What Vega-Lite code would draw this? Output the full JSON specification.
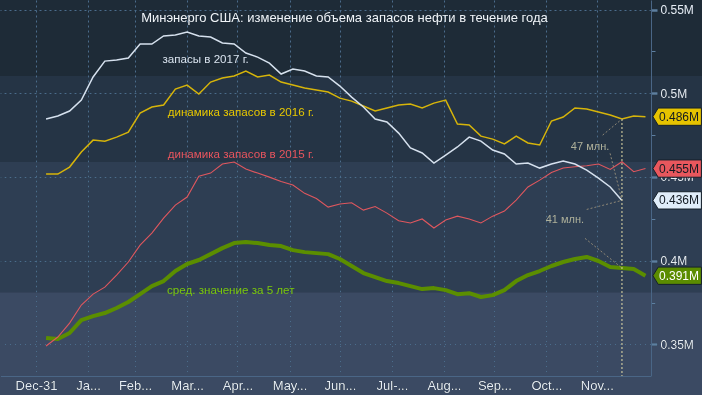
{
  "$schema": "https://vega.github.io/schema/vega-lite/v6.json",
  "width": 651,
  "height": 376,
  "autosize": {"type": "none"},
  "padding": {"left": 0, "top": 0, "right": 51, "bottom": 19},
  "background": "#1e2b37",
  "title": {"text": "Минэнерго США: изменение объема запасов нефти в течение года", "anchor": "middle", "frame": "group", "dx": 19, "offset": -25, "color": "#f0f4f8", "fontSize": 13, "fontWeight": "normal", "font": "Liberation Sans"},
  "config": {"view": {"stroke": null}, "font": "Liberation Sans", "axis": {"title": null}},
  "datasets": {
    "stocks": [
      {"d": "2017-01-06", "y2017": 0.4846, "y2016": 0.4517, "y2015": 0.3490, "avg5": 0.3538},
      {"d": "2017-01-13", "y2017": 0.4864, "y2016": 0.4517, "y2015": 0.3544, "avg5": 0.3532},
      {"d": "2017-01-20", "y2017": 0.4894, "y2016": 0.4559, "y2015": 0.3627, "avg5": 0.3568},
      {"d": "2017-01-27", "y2017": 0.4959, "y2016": 0.4649, "y2015": 0.3735, "avg5": 0.3645},
      {"d": "2017-02-03", "y2017": 0.5097, "y2016": 0.4720, "y2015": 0.3800, "avg5": 0.3669},
      {"d": "2017-02-10", "y2017": 0.5192, "y2016": 0.4714, "y2015": 0.3842, "avg5": 0.3687},
      {"d": "2017-02-17", "y2017": 0.5198, "y2016": 0.4738, "y2015": 0.3914, "avg5": 0.3717},
      {"d": "2017-02-24", "y2017": 0.5210, "y2016": 0.4768, "y2015": 0.3992, "avg5": 0.3753},
      {"d": "2017-03-03", "y2017": 0.5294, "y2016": 0.4882, "y2015": 0.4093, "avg5": 0.3800},
      {"d": "2017-03-10", "y2017": 0.5294, "y2016": 0.4918, "y2015": 0.4165, "avg5": 0.3848},
      {"d": "2017-03-17", "y2017": 0.5342, "y2016": 0.4930, "y2015": 0.4254, "avg5": 0.3878},
      {"d": "2017-03-24", "y2017": 0.5348, "y2016": 0.5025, "y2015": 0.4332, "avg5": 0.3938},
      {"d": "2017-03-31", "y2017": 0.5366, "y2016": 0.5049, "y2015": 0.4380, "avg5": 0.3980},
      {"d": "2017-04-07", "y2017": 0.5342, "y2016": 0.4995, "y2015": 0.4505, "avg5": 0.4004},
      {"d": "2017-04-14", "y2017": 0.5336, "y2016": 0.5067, "y2015": 0.4523, "avg5": 0.4039},
      {"d": "2017-04-21", "y2017": 0.5300, "y2016": 0.5091, "y2015": 0.4577, "avg5": 0.4075},
      {"d": "2017-04-28", "y2017": 0.5294, "y2016": 0.5103, "y2015": 0.4589, "avg5": 0.4105},
      {"d": "2017-05-05", "y2017": 0.5240, "y2016": 0.5133, "y2015": 0.4547, "avg5": 0.4111},
      {"d": "2017-05-12", "y2017": 0.5216, "y2016": 0.5097, "y2015": 0.4523, "avg5": 0.4105},
      {"d": "2017-05-19", "y2017": 0.5180, "y2016": 0.5109, "y2015": 0.4499, "avg5": 0.4093},
      {"d": "2017-05-26", "y2017": 0.5115, "y2016": 0.5067, "y2015": 0.4473, "avg5": 0.4087},
      {"d": "2017-06-02", "y2017": 0.5145, "y2016": 0.5049, "y2015": 0.4452, "avg5": 0.4063},
      {"d": "2017-06-09", "y2017": 0.5133, "y2016": 0.5031, "y2015": 0.4402, "avg5": 0.4051},
      {"d": "2017-06-16", "y2017": 0.5103, "y2016": 0.5019, "y2015": 0.4371, "avg5": 0.4045},
      {"d": "2017-06-23", "y2017": 0.5097, "y2016": 0.5007, "y2015": 0.4320, "avg5": 0.4039},
      {"d": "2017-06-30", "y2017": 0.5043, "y2016": 0.4971, "y2015": 0.4338, "avg5": 0.4010},
      {"d": "2017-07-07", "y2017": 0.4977, "y2016": 0.4953, "y2015": 0.4346, "avg5": 0.3968},
      {"d": "2017-07-14", "y2017": 0.4918, "y2016": 0.4924, "y2015": 0.4302, "avg5": 0.3926},
      {"d": "2017-07-21", "y2017": 0.4846, "y2016": 0.4894, "y2015": 0.4323, "avg5": 0.3902},
      {"d": "2017-07-28", "y2017": 0.4828, "y2016": 0.4912, "y2015": 0.4284, "avg5": 0.3878},
      {"d": "2017-08-04", "y2017": 0.4762, "y2016": 0.4930, "y2015": 0.4238, "avg5": 0.3866},
      {"d": "2017-08-11", "y2017": 0.4673, "y2016": 0.4936, "y2015": 0.4225, "avg5": 0.3848},
      {"d": "2017-08-18", "y2017": 0.4643, "y2016": 0.4912, "y2015": 0.4249, "avg5": 0.3830},
      {"d": "2017-08-25", "y2017": 0.4583, "y2016": 0.4941, "y2015": 0.4195, "avg5": 0.3836},
      {"d": "2017-09-01", "y2017": 0.4631, "y2016": 0.4959, "y2015": 0.4243, "avg5": 0.3824},
      {"d": "2017-09-08", "y2017": 0.4679, "y2016": 0.4816, "y2015": 0.4266, "avg5": 0.3800},
      {"d": "2017-09-15", "y2017": 0.4738, "y2016": 0.4810, "y2015": 0.4249, "avg5": 0.3806},
      {"d": "2017-09-22", "y2017": 0.4714, "y2016": 0.4744, "y2015": 0.4225, "avg5": 0.3783},
      {"d": "2017-09-29", "y2017": 0.4661, "y2016": 0.4726, "y2015": 0.4266, "avg5": 0.3794},
      {"d": "2017-10-06", "y2017": 0.4637, "y2016": 0.4697, "y2015": 0.4296, "avg5": 0.3824},
      {"d": "2017-10-13", "y2017": 0.4577, "y2016": 0.4744, "y2015": 0.4362, "avg5": 0.3878},
      {"d": "2017-10-20", "y2017": 0.4583, "y2016": 0.4703, "y2015": 0.4440, "avg5": 0.3914},
      {"d": "2017-10-27", "y2017": 0.4553, "y2016": 0.4691, "y2015": 0.4481, "avg5": 0.3938},
      {"d": "2017-11-03", "y2017": 0.4577, "y2016": 0.4834, "y2015": 0.4526, "avg5": 0.3968},
      {"d": "2017-11-10", "y2017": 0.4595, "y2016": 0.4858, "y2015": 0.4553, "avg5": 0.3992},
      {"d": "2017-11-17", "y2017": 0.4577, "y2016": 0.4912, "y2015": 0.4561, "avg5": 0.4010},
      {"d": "2017-11-24", "y2017": 0.4541, "y2016": 0.4906, "y2015": 0.4567, "avg5": 0.4022},
      {"d": "2017-12-01", "y2017": 0.4493, "y2016": 0.4888, "y2015": 0.4577, "avg5": 0.3998},
      {"d": "2017-12-08", "y2017": 0.4440, "y2016": 0.4870, "y2015": 0.4545, "avg5": 0.3962},
      {"d": "2017-12-15", "y2017": 0.4360, "y2016": 0.4846, "y2015": 0.4591, "avg5": 0.3956},
      {"d": "2017-12-22", "y2016": 0.4864, "y2015": 0.4531, "avg5": 0.3950},
      {"d": "2017-12-29", "y2016": 0.4860, "y2015": 0.4550, "avg5": 0.3910}
    ],
    "leaders": [
      {"d1": "2017-12-03T12:00:00Z", "v1": 0.4750, "d2": "2017-12-15", "v2": 0.4846},
      {"d1": "2017-12-07T22:00:00Z", "v1": 0.4641, "d2": "2017-12-15", "v2": 0.4360},
      {"d1": "2017-11-24", "v1": 0.4306, "d2": "2017-12-15", "v2": 0.4360},
      {"d1": "2017-11-23", "v1": 0.4133, "d2": "2017-12-15", "v2": 0.3956}
    ],
    "notes": [
      {"txt": "47 млн.", "d": "2017-11-26", "v": 0.4679},
      {"txt": "41 млн.", "d": "2017-11-11", "v": 0.4243}
    ],
    "serieslabels": [
      {"txt": "запасы в 2017 г.", "series": "y2017", "d": "2017-04-11", "v": 0.5198},
      {"txt": "динамика запасов в 2016 г.", "series": "y2016", "d": "2017-05-02", "v": 0.4883},
      {"txt": "динамика запасов в 2015 г.", "series": "y2015", "d": "2017-05-02", "v": 0.4631},
      {"txt": "сред. значение за 5 лет", "series": "avg5", "d": "2017-04-26", "v": 0.3820}
    ]
  },
  "data": {"name": "stocks"},
  "layer": [
    {
      "data": {"values": [{}]},
      "mark": {"type": "rect", "color": "#253445", "blend": "lighten", "clip": false},
      "encoding": {
        "x": {"datum": {"year": 2016, "month": 11, "date": 1, "utc": true}, "type": "temporal"},
        "x2": {"datum": {"year": 2018, "month": 3, "date": 1, "utc": true}},
        "y": {"datum": 0.4589, "type": "quantitative"},
        "y2": {"datum": 0.5103}
      }
    },
    {
      "data": {"values": [{}]},
      "mark": {"type": "rect", "color": "#2e3e53", "blend": "lighten", "clip": false},
      "encoding": {
        "x": {"datum": {"year": 2016, "month": 11, "date": 1, "utc": true}, "type": "temporal"},
        "x2": {"datum": {"year": 2018, "month": 3, "date": 1, "utc": true}},
        "y": {"datum": 0.3812, "type": "quantitative"},
        "y2": {"datum": 0.4589}
      }
    },
    {
      "data": {"values": [{}]},
      "mark": {"type": "rect", "color": "#3b4a63", "blend": "lighten", "clip": false},
      "encoding": {
        "x": {"datum": {"year": 2016, "month": 11, "date": 1, "utc": true}, "type": "temporal"},
        "x2": {"datum": {"year": 2018, "month": 3, "date": 1, "utc": true}},
        "y": {"datum": 0.28, "type": "quantitative"},
        "y2": {"datum": 0.3812}
      }
    },
    {
      "mark": {"type": "line", "color": "#5b8e00", "strokeWidth": 4, "strokeJoin": "round"},
      "encoding": {
        "x": {
          "field": "d", "type": "temporal",
          "scale": {"type": "utc", "domain": [{"year": 2016, "month": 12, "date": 9, "hours": 13, "minutes": 26, "utc": true}, {"year": 2018, "month": 1, "date": 1, "hours": 7, "utc": true}]},
          "axis": {
            "values": [
              {"year": 2016, "month": 12, "date": 31, "utc": true},
              {"year": 2017, "month": 1, "date": 31, "utc": true},
              {"year": 2017, "month": 2, "date": 28, "utc": true},
              {"year": 2017, "month": 3, "date": 31, "utc": true},
              {"year": 2017, "month": 4, "date": 30, "utc": true},
              {"year": 2017, "month": 5, "date": 31, "utc": true},
              {"year": 2017, "month": 6, "date": 30, "utc": true},
              {"year": 2017, "month": 7, "date": 31, "utc": true},
              {"year": 2017, "month": 8, "date": 31, "utc": true},
              {"year": 2017, "month": 9, "date": 30, "utc": true},
              {"year": 2017, "month": 10, "date": 31, "utc": true},
              {"year": 2017, "month": 11, "date": 30, "utc": true}
            ],
            "labelExpr": "['Ja...','Feb...','Mar...','Apr...','May...','Jun...','Jul-...','Aug...','Sep...','Oct...','Nov...','Dec-31'][utcmonth(datum.value)]",
            "grid": true, "gridColor": "#4b6c8c", "gridDash": [2, 3], "gridWidth": 1,
            "ticks": false, "domain": true, "domainColor": "#4a6686",
            "labelColor": "#e6edf5", "labelFontSize": 13, "labelPadding": 3,
            "labelFlush": false, "labelOverlap": false, "labelBound": false, "title": null
          }
        },
        "y": {
          "field": "avg5", "type": "quantitative",
          "scale": {"domain": [0.3311, 0.5557], "nice": false, "zero": false},
          "axis": {
            "orient": "right",
            "values": [0.35, 0.375, 0.4, 0.425, 0.45, 0.475, 0.5, 0.525, 0.55],
            "labelExpr": "round(datum.value*1000)%50==0 ? format(datum.value,'.2~f')+'M' : ''",
            "grid": true, "gridColor": "#4b6c8c", "gridDash": [2, 3],
            "gridOpacity": {"condition": {"test": "round(datum.value*1000)%50==0", "value": 1}, "value": 0},
            "tickColor": "#5d7fa0",
            "tickSize": {"condition": {"test": "round(datum.value*1000)%50==0", "value": 6}, "value": 4},
            "tickWidth": {"condition": {"test": "round(datum.value*1000)%50==0", "value": 2.5}, "value": 1},
            "domainColor": "#4a6686",
            "labelColor": "#e6edf5", "labelFontSize": 12, "labelPadding": 3,
            "labelFlush": false, "labelOverlap": false, "title": null
          }
        }
      }
    },
    {
      "mark": {"type": "line", "color": "#e0575e", "strokeWidth": 1.1},
      "encoding": {"x": {"field": "d", "type": "temporal"}, "y": {"field": "y2015", "type": "quantitative"}}
    },
    {
      "mark": {"type": "line", "color": "#d6b40a", "strokeWidth": 1.5},
      "encoding": {"x": {"field": "d", "type": "temporal"}, "y": {"field": "y2016", "type": "quantitative"}}
    },
    {
      "mark": {"type": "line", "color": "#d6e1ee", "strokeWidth": 1.5},
      "encoding": {"x": {"field": "d", "type": "temporal"}, "y": {"field": "y2017", "type": "quantitative"}}
    },
    {
      "data": {"values": [{}]},
      "mark": {"type": "rule", "color": "#e6dfaa", "strokeDash": [2, 2], "strokeWidth": 1},
      "encoding": {
        "x": {"datum": {"year": 2017, "month": 12, "date": 15, "utc": true}, "type": "temporal"},
        "y": {"datum": 0.4846, "type": "quantitative"},
        "y2": {"datum": 0.3311}
      }
    },
    {
      "data": {"name": "leaders"},
      "mark": {"type": "rule", "color": "#8f8877", "strokeDash": [2, 2], "strokeWidth": 1},
      "encoding": {
        "x": {"field": "d1", "type": "temporal"},
        "x2": {"field": "d2"},
        "y": {"field": "v1", "type": "quantitative"},
        "y2": {"field": "v2"}
      }
    },
    {
      "data": {"name": "notes"},
      "mark": {"type": "text", "color": "#aeb09a", "fontSize": 11, "align": "center", "baseline": "middle"},
      "encoding": {
        "x": {"field": "d", "type": "temporal"},
        "y": {"field": "v", "type": "quantitative"},
        "text": {"field": "txt"}
      }
    },
    {
      "data": {"name": "serieslabels"},
      "mark": {"type": "text", "fontSize": 11.6, "align": "center", "baseline": "middle"},
      "encoding": {
        "x": {"field": "d", "type": "temporal"},
        "y": {"field": "v", "type": "quantitative"},
        "text": {"field": "txt"},
        "color": {"field": "series", "type": "nominal", "scale": {"domain": ["y2017", "y2016", "y2015", "avg5"], "range": ["#d9e3ee", "#e8c800", "#e8555e", "#7ac70c"]}, "legend": null}
      }
    },
    {
      "transform": [
        {"fold": ["y2017", "y2016", "y2015", "avg5"], "as": ["series", "v"]},
        {"filter": "isValid(datum.v)"},
        {"window": [{"op": "row_number", "as": "rn"}], "groupby": ["series"], "sort": [{"field": "d", "order": "descending"}]},
        {"filter": "datum.rn == 1"},
        {"calculate": "format(datum.v, '.3f') + 'M'", "as": "tag"}
      ],
      "layer": [
        {
          "mark": {"type": "point", "shape": "M0.08,0L0.3,-0.36L2.1,-0.36L2.1,0.36L0.3,0.36Z", "size": 2304, "filled": true, "opacity": 1, "clip": false, "stroke": "#16212b", "strokeWidth": 1},
          "encoding": {
            "x": {"datum": {"year": 2018, "month": 1, "date": 1, "hours": 7, "utc": true}, "type": "temporal"},
            "y": {"field": "v", "type": "quantitative"},
            "fill": {"field": "series", "type": "nominal", "scale": {"domain": ["y2017", "y2016", "y2015", "avg5"], "range": ["#e0edf9", "#e6c300", "#e8575d", "#5b8c00"]}, "legend": null}
          }
        },
        {
          "mark": {"type": "text", "align": "left", "baseline": "middle", "dx": 8, "fontSize": 12, "clip": false},
          "encoding": {
            "x": {"datum": {"year": 2018, "month": 1, "date": 1, "hours": 7, "utc": true}, "type": "temporal"},
            "y": {"field": "v", "type": "quantitative"},
            "text": {"field": "tag"},
            "color": {"condition": {"test": "datum.series == 'avg5'", "value": "#ffffff"}, "value": "#121a22"}
          }
        }
      ]
    }
  ]
}
